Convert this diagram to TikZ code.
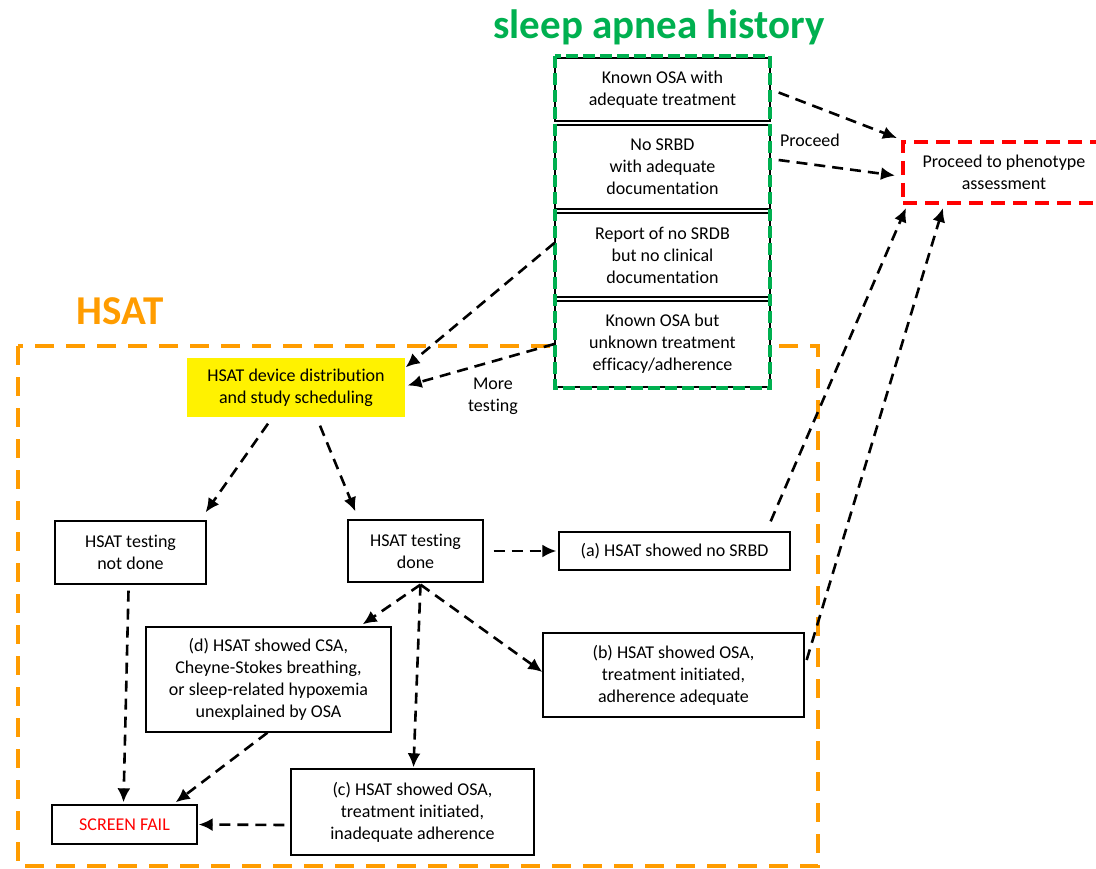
\documentclass[tikz,border=0pt]{standalone}
\usepackage{fontspec}
\setmainfont[Ligatures=NoCommon]{Carlito}
\usetikzlibrary{arrows.meta}
\definecolor{apneagreen}{RGB}{0,176,80}
\definecolor{hsatorange}{RGB}{255,156,0}
\tikzset{
  box/.style={draw, fill=white, line width=1.3pt, align=center, inner sep=0pt,
    font=\fontsize{18}{22}\selectfont},
  lbl/.style={align=center, font=\fontsize{18}{22}\selectfont},
  go/.style={line width=2.6pt, dash pattern=on 11pt off 7pt,
    -{Latex[length=14pt,width=13pt]}}
}
\begin{document}
\begin{tikzpicture}[x=1pt,y=-1pt]
\useasboundingbox (0,0) rectangle (1096,869);
\clip (0,0) rectangle (1096,869);

\node[font=\fontsize{41}{44}\selectfont\bfseries, text=apneagreen] (histtitle) at (659,27) {sleep apnea history};
\node[font=\fontsize{41}{44}\selectfont\bfseries, text=hsatorange] (hsattitle) at (120,311) {HSAT};

\draw[hsatorange, line width=4pt, dash pattern=on 19pt off 12pt] (18,346) rectangle (818,866);

\node[box, minimum width=215, minimum height=63] (known) at (662.5,89.5) {Known OSA with\\adequate treatment};
\node[box, minimum width=215, minimum height=84] (nosrbd) at (662.5,167) {No SRBD\\with adequate\\documentation};
\node[box, minimum width=215, minimum height=84] (report) at (662.5,255) {Report of no SRDB\\but no clinical\\documentation};
\node[box, minimum width=215, minimum height=86] (unknown) at (662.5,344) {Known OSA but\\unknown treatment\\efficacy/adherence};
\draw[apneagreen, line width=3.5pt, dash pattern=on 12pt off 5pt] (555,56) rectangle (770,388);

\node[box, draw=red, line width=4pt, dash pattern=on 14pt off 8pt, minimum width=202, minimum height=61] (phen) at (1004,172.5) {Proceed to phenotype\\assessment};

\node[box, draw=none, fill=yellow, minimum width=218, minimum height=59] (dist) at (296,387.5) {HSAT device distribution\\and study scheduling};

\node[box, minimum width=151, minimum height=63] (notdone) at (130.5,552.5) {HSAT testing\\not done};
\node[box, minimum width=135, minimum height=62] (done) at (415.5,551) {HSAT testing\\done};
\node[box, minimum width=231, minimum height=38] (srbd) at (674.5,551) {(a) HSAT showed no SRBD};
\node[box, minimum width=261, minimum height=84] (adeq) at (673.5,675) {(b) HSAT showed OSA,\\treatment initiated,\\adherence adequate};
\node[box, minimum width=245, minimum height=105] (csa) at (268.5,679.5) {(d) HSAT showed CSA,\\Cheyne-Stokes breathing,\\or sleep-related hypoxemia\\unexplained by OSA};
\node[box, minimum width=243, minimum height=86] (incad) at (412.5,812) {(c) HSAT showed OSA,\\treatment initiated,\\inadequate adherence};
\node[box, text=red, minimum width=145, minimum height=39] (fail) at (124.5,824.5) {SCREEN FAIL};

\node[lbl] (proceed) at (810,140) {Proceed};
\node[lbl] (moretest) at (493,396) {More\\testing};

\draw[go] ([xshift=8pt,yshift=-3pt]known.east) -- ([xshift=-4pt,yshift=2pt]phen.north west);
\draw[go] ([xshift=8pt,yshift=7pt]nosrbd.east) -- ([xshift=-6pt,yshift=-3pt]phen.west);
\draw[go] ([yshift=12pt]report.west) -- ([yshift=-10pt]dist.north east);
\draw[go] (unknown.west) -- ([xshift=2pt,yshift=2pt]dist.east);
\draw[go] ([xshift=-28pt,yshift=-6pt]dist.south) -- ([xshift=-1pt,yshift=8pt]notdone.north east);
\draw[go] ([xshift=24pt,yshift=-8pt]dist.south) -- ([xshift=8pt,yshift=8pt]done.north west);
\draw[go] ([xshift=10pt]done.east) -- ([xshift=-2pt]srbd.west);
\draw[go] ([xshift=-20pt,yshift=10pt]srbd.north east) -- ([xshift=5pt,yshift=-3pt]phen.south west);
\draw[go] ([xshift=2pt,yshift=15pt]adeq.east) -- ([xshift=42pt,yshift=-3pt]phen.south west);
\draw[go] ([xshift=5pt,yshift=-2pt]done.south) -- ([xshift=-29pt,yshift=2pt]csa.north east);
\draw[go] ([xshift=5pt,yshift=-2pt]done.south) -- ([xshift=1pt,yshift=1pt]incad.north);
\draw[go] ([xshift=5pt,yshift=-2pt]done.south) -- ([yshift=3pt]adeq.west);
\draw[go] ([xshift=-2pt,yshift=-6pt]notdone.south) -- ([xshift=-1pt,yshift=2pt]fail.north);
\draw[go] ([xshift=-1pt]csa.south) -- ([xshift=-22pt,yshift=2pt]fail.north east);
\draw[go] ([xshift=-6pt,yshift=-13pt]incad.west) -- ([xshift=1pt]fail.east);
\end{tikzpicture}
\end{document}
